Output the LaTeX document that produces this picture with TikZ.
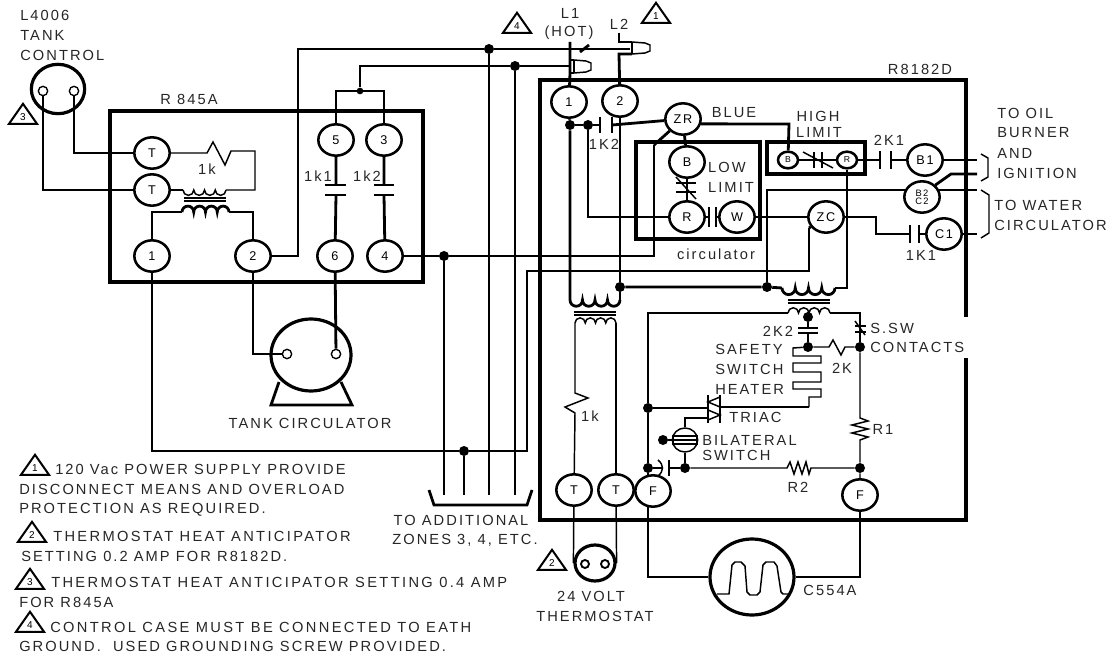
\documentclass[tikz,border=0pt]{standalone}
\usepackage{fontspec}
\setmainfont{Liberation Sans}[LetterSpace=14]
\newfontfamily\widefont{Liberation Sans}[LetterSpace=16]
\usetikzlibrary{shapes.geometric}
\newcommand{\drawcoil}[5]{\draw[#1] (#2,#3)
  arc[start angle=180,end angle=#5,radius=#4] arc[start angle=180,end angle=#5,radius=#4]
  arc[start angle=180,end angle=#5,radius=#4] arc[start angle=180,end angle=#5,radius=#4];}
\begin{document}
\begin{tikzpicture}[
    x=0.75pt, y=-0.75pt,
    term/.style={ellipse, draw, line width=1.9pt, inner sep=0pt, minimum width=26.5pt, minimum height=23.5pt, font=\fontsize{9.5}{9.5}\selectfont},
    sterm/.style={ellipse, draw, line width=1.9pt, inner sep=0pt, minimum width=15pt, minimum height=12.5pt, font=\fontsize{6.5}{6.5}\selectfont},
    lug/.style={circle, draw, fill=white, line width=1pt, inner sep=0pt, minimum size=7pt},
    motor/.style={ellipse, draw, line width=2.4pt, inner sep=0pt},
    dot/.style={circle, fill=black, inner sep=0pt, minimum size=7.5pt},
    lbl/.style={inner sep=0pt, font=\fontsize{11}{11}\selectfont, text=black!85},
    note/.style={lbl, anchor=west},
    wtri/.style={isosceles triangle, isosceles triangle stretches, shape border rotate=90, draw, line width=1.5pt, inner sep=0pt, minimum width=21pt, minimum height=15pt, font=\fontsize{7.5}{7.5}\selectfont},
    wire/.style={line width=2.1pt},
    thinw/.style={line width=1.1pt},
    panel/.style={line width=3pt},
    plate/.style={line width=1.9pt}
]
\useasboundingbox (0,0) rectangle (1108,656);

% Tank control
\node[motor, minimum width=40pt, minimum height=37pt] (tc) at (58,89) {};
\node[lug] (tca) at (43,91) {};
\node[lug] (tcb) at (74,91) {};
\node[wtri] (tri3) at (23,117) {3};
\node[lbl, anchor=west] (tc1) at (20,15) {L4006};
\node[lbl, anchor=west] (tc2) at (20,35) {TANK};
\node[lbl, anchor=west] (tc3) at (20,55) {CONTROL};

% R 845A
\draw[panel] (110,111) rectangle (423,282);
\node[lbl] (rname) at (189,99) {R 845A};
\node[term] (rt1) at (152,153) {T};
\node[term] (rt2) at (152,190) {T};
\node[term] (n1) at (152,256) {1};
\node[term] (n2) at (253,256) {2};
\node[term] (n6) at (335,256) {6};
\node[term] (n4) at (385,256) {4};
\node[term] (n5) at (336,140) {5};
\node[term] (n3) at (384,140) {3};
\node[lbl] (l1k) at (207,169) {1k};
\node[lbl] (l1k1) at (318,176) {1k1};
\node[lbl] (l1k2) at (367,176) {1k2};
\draw[thinw] (tca) |- (rt2);
\draw[thinw] (tcb) |- (rt1);
\coordinate (rz) at (207,153);
\coordinate (re) at (255,190);
\coordinate (ca) at (183,190);
\coordinate (cb) at (226,190);
\draw[thinw] (rt1) -- (rz) -- ++(6,-11) -- ++(12,23) -- ++(6,-14) -- (255,151) -- (re) -- (cb);
\draw[thinw] (rt2) -- (ca);
\drawcoil{thinw}{183}{190}{5.375}{0}
\draw[thinw] (184,198) -- (226,198) (184,201) -- (226,201);
\drawcoil{wire}{182}{212}{5.875}{360}
\coordinate (cc) at (182,212);
\coordinate (cd) at (229,212);
\draw[wire] (n1) |- (cc);
\draw[wire] (n2) |- (cd);
% relay contacts
\coordinate (k1t) at (336,185);
\coordinate (k1b) at (336,195);
\coordinate (k2t) at (384,185);
\coordinate (k2b) at (384,195);
\draw[wire] (n5) -- (k1t) (k1b) -- (n6);
\draw[wire] (n3) -- (k2t) (k2b) -- (n4);
\draw[plate] (325,185) -- (346,185) (325,195) -- (346,195);
\draw[plate] (374,185) -- (394,185) (374,195) -- (394,195);
\node[dot, minimum size=5pt] (d53) at (360,91) {};
\coordinate (j5) at (336,91);
\coordinate (j3) at (384,91);
\draw[wire] (n5) -- (j5) -- (j3) -- (n3);

% Tank circulator
\node[motor, minimum width=60pt, minimum height=54pt] (circ) at (311,355) {};
\node[lug] (ca1) at (287,354) {};
\node[lug] (ca2) at (336,354) {};
\node[lbl] (lcirc) at (310,423) {TANK CIRCULATOR};
\draw[wire] (n2) |- (ca1);
\draw[wire] (n6) -- (ca2);
\draw[wire] (279,382) -- (271,405) -- (352,405) -- (341,382);

% Center wires and zones
\node[dot] (dg) at (489,49) {};
\node[dot] (dh) at (515,66) {};
\node[dot] (dj) at (444,256) {};
\node[dot] (dk) at (464,451) {};
\coordinate (vg) at (489,495);
\coordinate (vh) at (515,495);
\coordinate (vj) at (444,495);
\coordinate (vk) at (464,495);
\coordinate (w2a) at (298,256);
\coordinate (w2b) at (298,49);
\coordinate (pg) at (630,49);
\coordinate (px) at (570,66);
\coordinate (j1) at (152,451);
\coordinate (j2) at (527,451);
\coordinate (j3a) at (527,271);
\coordinate (j3b) at (809,271);
\coordinate (j3c) at (809,228);
\coordinate (j4a) at (654,256);
\coordinate (j4b) at (654,145);
\draw[wire] (n2) -- (w2a) -- (w2b) -- (dg) -- (pg);
\draw[wire] (d53) -- (360,66) -- (dh) -- (px);
\draw[wire] (dg) -- (vg);
\draw[wire] (dh) -- (vh);
\draw[wire] (dj) -- (vj);
\draw[wire] (dk) -- (vk);
\draw[wire] (n1) -- (j1) -- (dk) -- (j2) -- (j3a) -- (j3b) -- (j3c);
\draw[wire] (n4) -- (dj) -- (j4a) -- (j4b);
\draw[wire] (429,490) -- (434,505) -- (527,505) -- (532,490);
\node[lbl] (lz1) at (461,520) {TO ADDITIONAL};
\node[lbl] (lz2) at (465,540) {ZONES 3, 4, ETC.};

% Supply
\node[wtri] (tri4) at (517,26) {4};
\node[wtri] (tri1) at (656,16) {1};
\node[lbl] (ll1) at (570,13) {L1};
\node[lbl] (lhot) at (569,33) {(HOT)};
\node[lbl] (ll2) at (619,24) {L2};
\node[term] (ra) at (569,102) {1};
\node[term] (rb) at (620,101) {2};
\coordinate (p1a) at (570,60);
\coordinate (p1b) at (570,73);
\coordinate (p2a) at (619,42);
\coordinate (p2b) at (619,54);
\draw[wire] (570,42) -- (p1a) -- (p1b) -- (ra);
\draw[wire] (580,52) -- (589,45);
\draw[wire] (619,33) -- (p2a) -- (632,42);
\draw[wire] (632,54) -- (p2b) -- (rb);
\draw[wire] (p1a) -- (574,60) (p1b) -- (574,73);
\draw[thinw] (574,60) -- (586,61) -- (591,63) -- (591,70) -- (586,72) -- (574,73);
\draw[thinw] (632,42) -- (645,43) -- (650,45) -- (650,51) -- (645,53) -- (632,54);
\draw[wire] (632,42) -- (632,54);
\draw[wire] (574,60) -- (574,73);

% R8182D
\draw[panel] (966,317) -- (966,80) -- (540,80) -- (540,520) -- (966,520) -- (966,358);
\node[lbl] (sname) at (920,69) {R8182D};
\node[dot] (d1) at (570,125) {};
\node[dot] (d2) at (588,125) {};
\node[dot] (d3) at (620,287) {};
\node[dot] (d4) at (767,287) {};
\node[term] (zr) at (683,119) {ZR};
\node[term] (zc) at (826,217) {ZC};
\node[term] (lb) at (687,162) {B};
\node[term] (lr) at (687,217) {R};
\node[term] (lw) at (737,217) {W};
\node[sterm] (hb) at (788,160) {B};
\node[sterm] (hr) at (847,160) {R};
\node[term] (bone) at (925,160) {B1};
\node[term, font=\fontsize{7}{7}\selectfont, align=center] (bc) at (922,197) {B2\\[-1pt]C2};
\node[term] (cone) at (944,234) {C1};
\node[lbl] (lblue) at (734,113) {BLUE};
\node[lbl] (lhigh) at (818,116) {HIGH};
\node[lbl] (llim) at (819,132) {LIMIT};
\node[lbl] (llow) at (727,167) {LOW};
\node[lbl] (llim2) at (731,187) {LIMIT};
\node[lbl] (lcl) at (716,254) {circulator};
\node[lbl] (l2k1) at (889,140) {2K1};
\node[lbl] (l1k1b) at (921,255) {1K1};
\node[lbl] (l1k2b) at (604,144) {1K2};
\node[note] (lt1) at (997,113) {TO OIL};
\node[note] (lt2) at (997,133) {BURNER};
\node[note] (lt3) at (997,153) {AND};
\node[note] (lt4) at (997,173) {IGNITION};
\node[note] (lt5) at (994,205) {TO WATER};
\node[note] (lt6) at (994,225) {CIRCULATOR};
\draw[panel] (636,142) rectangle (760,239);
\draw[panel] (767,142) rectangle (865,174);
\coordinate (c1r) at (570,300);
\coordinate (c2r) at (620,300);
\coordinate (k3a) at (600,125);
\coordinate (k3b) at (612,125);
\draw[wire] (ra) -- (d1) -- (c1r);
\draw[wire] (d1) -- (d2) -- (k3a);
\draw[wire] (k3b) -- (zr);
\draw[plate] (600,117) -- (600,133) (612,117) -- (612,133);
\draw[wire] (d2) |- (lr);
\draw[wire] (rb) -- (d3) -- (c2r);
\coordinate (e1) at (782,288);
\coordinate (e2) at (835,288);
\coordinate (e3) at (847,288);
\draw[wire] (d3) -- (d4) -- (e1);
\draw[wire] (e2) -- (e3) -- (hr);
\drawcoil{wire}{570}{300}{6.25}{0}
\drawcoil{wire}{782}{288}{6.625}{0}
\draw[wire] (zr) -- (j4b);
\draw[wire] (zc) -- (j3c);
\coordinate (zr1) at (789,124);
\draw[wire] (zr.345) -- (zr1) -- (hb);
\draw[wire] (zr) -- (lb);
\draw[wire] (lb) -- (lr);
\draw[plate] (676,183) -- (696,183) (676,192) -- (696,192);
\draw[thinw] (676,177) -- (696,199);
\draw[wire] (lr) -- (709,217) (716,217) -- (lw);
\draw[plate] (709,207) -- (709,227) (716,207) -- (716,227);
\draw[wire] (lw) -- (zc);
\draw[wire] (hb) -- (hr);
\draw[plate] (814,152) -- (814,168) (822,152) -- (822,168);
\draw[thinw] (803,152) -- (833,168);
\draw[wire] (hr) -- (880,160) (891,160) -- (bone);
\draw[plate] (880,151) -- (880,169) (891,151) -- (891,169);
\coordinate (o1) at (977,160);
\coordinate (o2) at (977,174);
\coordinate (o3) at (977,190);
\coordinate (o4) at (977,234);
\coordinate (b1) at (906,190);
\coordinate (b2) at (938,190);
\coordinate (b3) at (951,174);
\draw[wire] (bone) -- (o1);
\draw[wire] (d4) |- (b1);
\draw[wire] (b2) -- (o3);
\draw[wire] (bc.north east) -- (b3) -- (o2);
\draw[wire] (zc) -- (876,217) -- (876,234) -- (910,234);
\draw[plate] (910,225) -- (910,243) (919,225) -- (919,243);
\draw[wire] (919,234) -- (cone);
\draw[wire] (cone) -- (o4);
\draw[thinw] (981,154) -- (988,158) -- (988,177) -- (981,181);
\draw[thinw] (981,190) -- (989,195) -- (989,233) -- (981,238);

% Thermostat transformer
\node[term] (tt1) at (574,490) {T};
\node[term] (tt2) at (616,490) {T};
\node[motor, minimum width=30pt, minimum height=27pt] (ts) at (595,563) {};
\node[lug, minimum size=6pt, line width=1.4pt] (tsa) at (585,564) {};
\node[lug, minimum size=6pt, line width=1.4pt] (tsb) at (605,564) {};
\node[wtri] (tri2) at (552,563) {2};
\node[lbl] (lk1) at (590,416) {1k};
\node[lbl] (lv) at (591,596) {24 VOLT};
\node[lbl] (lth) at (595,616) {THERMOSTAT};
\draw[wire] (574,312) -- (616,312) (574,315) -- (616,315);
\drawcoil{thinw}{575}{323}{5.125}{360}
\coordinate (t1a) at (575,323);
\coordinate (t2a) at (616,323);
\draw[thinw] (t1a) -- (575,393) -- (588,398) -- (565,407) -- (575,413) -- (tt1);
\draw[thinw] (t2a) -- (tt2);
\draw[thinw] (tt1) -- (ts.west);
\draw[thinw] (tt2) -- (ts.east);

% Safety switch circuit
\node[term] (f1) at (653,491) {F};
\node[term] (f2) at (860,495) {F};
\node[dot] (dtap) at (808,317) {};
\node[dot] (dh1) at (808,347) {};
\node[dot] (ds) at (860,347) {};
\node[dot] (df1) at (648,408) {};
\node[dot] (df2) at (648,468) {};
\node[dot] (dsw) at (685,468) {};
\node[dot] (dr) at (860,468) {};
\node[dot] (dbs) at (663,440) {};
\node[ellipse, draw, line width=1.1pt, inner sep=0pt, minimum width=19pt, minimum height=18pt] (bs) at (685,440) {};
\node[lbl] (l2k2) at (778,331) {2K2};
\node[lbl] (l2k) at (842,368) {2K};
\node[note] (lss) at (870,328) {S.SW};
\node[note] (lcn) at (870,347) {CONTACTS};
\node[note] (ls1) at (715,349) {SAFETY};
\node[note] (ls2) at (715,369) {SWITCH};
\node[note] (ls3) at (715,389) {HEATER};
\node[note] (ltr) at (729,417) {TRIAC};
\node[note] (lb1) at (702,440) {BILATERAL};
\node[note] (lb2) at (702,455) {SWITCH};
\node[lbl] (lr1) at (883,429) {R1};
\node[lbl] (lr2) at (798,487) {R2};
\draw[thinw] (788,300) -- (830,300) (788,303) -- (830,303);
\drawcoil{thinw}{788}{313}{5.25}{360}
\coordinate (e4) at (788,313);
\coordinate (e5) at (830,313);
\coordinate (e6) at (648,313);
\coordinate (e7) at (860,313);
\coordinate (e8) at (648,577);
\coordinate (e9) at (860,577);
\draw[thinw] (e4) -- (e6) -- (df1) -- (df2) -- (df2 |- f1.105);
\draw[thinw] (e5) -- (e7) -- (ds);
\draw[thinw] (855,326) -- (866,326) (855,332) -- (866,332);
\draw[thinw] (855,321) -- (865,335);
\draw[thinw] (808,313) -- (dtap) -- (808,328) (808,333) -- (dh1);
\draw[plate] (798,328) -- (818,328) (798,333) -- (818,333);
\draw[thinw] (dh1) -- (829,347) -- (833,340) -- (841,355) -- (845,347) -- (ds);
\coordinate (h1) at (809,407);
\draw[thinw] (dh1) -- (793,348) -- (793,356) -- (821,356) -- (821,363) -- (793,363) -- (793,372) -- (821,372) -- (821,382) -- (793,382) -- (793,389) -- (821,389) -- (821,397) -- (809,397) -- (h1);
\draw[thinw] (h1) -- (720,407);
% triac
\draw[thinw] (df1) -- (708,408);
\draw[thinw] (708,395) -- (708,423) (720,395) -- (720,423);
\draw[thinw] (720,397) -- (720,407) -- (708,402) -- cycle;
\draw[thinw] (708,410) -- (708,420) -- (720,415) -- cycle;
\coordinate (gt) at (685,418);
\draw[thinw] (708,418) -- (gt) -- (bs);
\draw[thinw] (673,436) rectangle (697,444) (673,440) -- (697,440);
\draw[wire] (dbs) -- (bs);
\draw[thinw] (bs) -- (dsw);
% capacitor and R2
\draw[thinw] (df2) -- (662,468);
\draw[thinw] (658,460) .. controls (664,465) and (664,471) .. (658,476);
\draw[thinw] (669,460) -- (669,476);
\draw[thinw] (669,468) -- (dsw);
\draw[thinw] (dsw) -- (787,468) -- (790,462) -- (794,474) -- (798,462) -- (802,474) -- (806,462) -- (809,474) -- (811,468) -- (dr);
\draw[thinw] (ds) -- (860,418) -- (868,421) -- (852,425) -- (868,429) -- (852,433) -- (868,437) -- (860,440) -- (dr) -- (f2);

% C554A
\node[motor, minimum width=63pt, minimum height=57pt] (mot) at (752,577) {};
\node[lbl] (lmot) at (830,590) {C554A};
\draw[thinw] (df2 |- f1.255) -- (e8) -- (mot);
\draw[thinw] (f2) -- (e9) -- (mot);
\draw[thinw] (717,594) -- (729,594) -- (732,565) -- (735,562) -- (741,562) -- (745,566) -- (747,592) -- (750,595) -- (757,595) -- (760,592) -- (763,565) -- (766,562) -- (774,562) -- (777,566) -- (781,592) -- (783,594) -- (788,594);

% Notes
\node[wtri] (tn1) at (35,468) {1};
\node[note] (n1a) at (55,469) {120 Vac POWER SUPPLY PROVIDE};
\node[note] (n1b) at (19,489) {DISCONNECT MEANS AND OVERLOAD};
\node[note] (n1c) at (19,510) {PROTECTION AS REQUIRED.};
\node[wtri] (tn2) at (32,535) {2};
\node[note] (n2a) at (53,536) {\widefont THERMOSTAT HEAT ANTICIPATOR};
\node[note] (n2b) at (21,556) {SETTING 0.2 AMP FOR R8182D.};
\node[wtri] (tn3) at (30,582) {3};
\node[note] (n3a) at (51,582) {\widefont THERMOSTAT HEAT ANTICIPATOR SETTING 0.4 AMP};
\node[note] (n3b) at (19,602) {FOR R845A};
\node[wtri] (tn4) at (30,625) {4};
\node[note] (n4a) at (50,627) {\widefont CONTROL CASE MUST BE CONNECTED TO EATH};
\node[note] (n4b) at (19,646) {GROUND.\ \ USED GROUNDING SCREW PROVIDED.};

\end{tikzpicture}
\end{document}
